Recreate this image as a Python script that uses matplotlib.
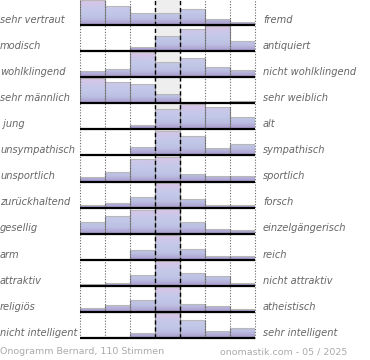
import numpy as np
import matplotlib
matplotlib.use('Agg')
import matplotlib.pyplot as plt
import matplotlib.transforms as mtransforms
from matplotlib.colors import LinearSegmentedColormap

# left / right adjective of each scale
left_labels = ['sehr vertraut', 'modisch', 'wohlklingend', 'sehr männlich', ' jung',
               'unsympathisch', 'unsportlich', 'zurückhaltend', 'gesellig', 'arm',
               'attraktiv', 'religiös', 'nicht intelligent']
right_labels = ['fremd', 'antiquiert', 'nicht wohlklingend', 'sehr weiblich', 'alt',
                'sympathisch', 'sportlich', 'forsch', 'einzelgängerisch', 'reich',
                'nicht attraktiv', 'atheistisch', 'sehr intelligent']

# relative share of votes per step (max of row = 100)
values = [
    [100, 76, 50, 50, 65, 24, 11],
    [3, 3, 17, 61, 88, 100, 40],
    [24, 35, 100, 62, 78, 42, 30],
    [100, 84, 78, 38, 3, 0, 8],
    [2, 2, 19, 80, 100, 90, 50],
    [0, 0, 34, 100, 78, 30, 47],
    [18, 40, 89, 100, 30, 24, 21],
    [11, 19, 42, 100, 35, 12, 12],
    [46, 73, 96, 100, 46, 19, 15],
    [0, 0, 39, 100, 43, 16, 16],
    [9, 13, 42, 100, 50, 39, 13],
    [17, 28, 47, 100, 31, 24, 11],
    [0, 4, 20, 100, 72, 28, 42],
]

footer_left = 'Onogramm Bernard, 110 Stimmen'
footer_right = 'onomastik.com - 05 / 2025'

W, H = 370, 360
fig = plt.figure(figsize=(W / 100, H / 100), dpi=100)
ax = fig.add_axes([80 / W, 1 - 338 / H, 175 / W, 339 / H])
ax.set_xlim(0, 7)
ax.set_ylim(len(values), 0)
ax.axis('off')

cmap = LinearSegmentedColormap.from_list('bar', ['#dcc4e6', '#cac8ea', '#c2c8e8', '#bcbfe2', '#a898cc'])
grad = np.linspace(0, 1, 64).reshape(-1, 1)

# middle column
ax.axvspan(3, 4, color='#eeeeee', zorder=0)

scale = 0.955
cols = np.arange(7)
for i, row in enumerate(values):
    base = i + 1
    heights = np.array([max(v / 100 * scale, 0.03) if v > 0 else 0 for v in row])
    for j, h in enumerate(heights):
        if h <= 0:
            continue
        rect = plt.Rectangle((j, base - h), 1, h, facecolor='none', edgecolor='none')
        ax.add_patch(rect)
        im = ax.imshow(grad, cmap=cmap, aspect='auto', extent=(j, j + 1, base, base - scale),
                       origin='upper', zorder=1, interpolation='bilinear')
        im.set_clip_path(rect)
    keep = heights > 0
    # light top edges
    ax.hlines(base - heights[keep], cols[keep], cols[keep] + 1, color='#b8b8b8', lw=0.8, zorder=2)
    # darker side edges
    side = np.maximum(np.r_[0, heights], np.r_[heights, 0])
    ax.vlines(np.arange(8)[side > 0], base, base - side[side > 0], color='#8c8c8c', lw=0.8, zorder=2)
    ax.plot([0, 7], [base, base], color='black', lw=1.6, zorder=4, clip_on=False,
            solid_capstyle='butt')

for x in [0, 1, 2, 5, 6, 7]:
    ax.axvline(x, color='#666666', lw=0.8, ls=(0, (1, 1.5)), zorder=3, clip_on=False)
for x in [3, 4]:
    ax.axvline(x, color='black', lw=1.0, ls=(0, (3, 2)), zorder=3, clip_on=False)

trans = mtransforms.blended_transform_factory(fig.transFigure, ax.transData)
for i in range(len(values)):
    y = i + 1 - 0.2
    ax.text(0.0, y, left_labels[i], transform=trans, ha='left', va='center',
            fontsize=7.1, style='italic', color='#666666')
    ax.text(263 / W, y, right_labels[i], transform=trans, ha='left', va='center',
            fontsize=7.1, style='italic', color='#666666')

fig.text(0.0, 1 - 352 / H, footer_left, ha='left', va='center', fontsize=6.8, color='#aaaaaa')
fig.text(347 / W, 1 - 352 / H, footer_right, ha='right', va='center', fontsize=6.8, color='#aaaaaa')

fig.savefig('out.png', dpi=100)
